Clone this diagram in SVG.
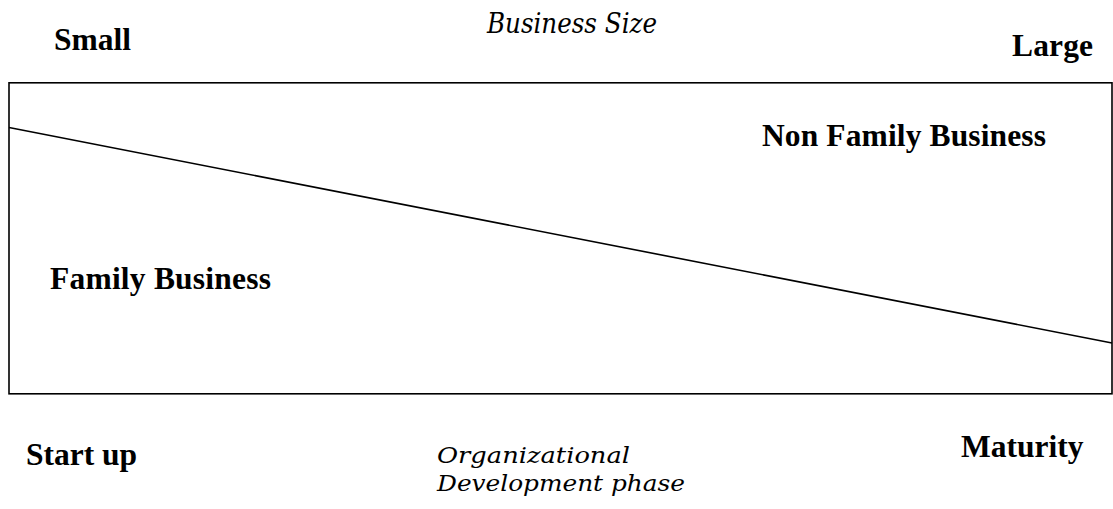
<svg xmlns="http://www.w3.org/2000/svg" width="1113" height="509" viewBox="0 0 1113 509">
<style>
.b{font-family:"Liberation Serif","Times New Roman",serif;font-weight:bold;font-size:31.5px;fill:#000}
.i{font-family:"DejaVu Serif","Liberation Serif",serif;font-style:italic;fill:#000}
.ln{stroke:#000;stroke-width:1.6;fill:none}
</style>
<rect width="1113" height="509" fill="#fff"/>
<g id="frame"><rect class="ln" x="9" y="82.8" width="1103" height="311"/></g>
<g id="connectors"><line class="ln" x1="9" y1="127.5" x2="1112" y2="343"/></g>
<g id="small"><text class="b" x="54" y="50" textLength="77">Small</text></g>
<g id="business-size"><text class="i" x="487" y="33" font-size="27" textLength="170" lengthAdjust="spacingAndGlyphs">Business Size</text></g>
<g id="large"><text class="b" x="1012" y="56" textLength="81">Large</text></g>
<g id="non-family"><text class="b" x="762" y="146" textLength="284">Non Family Business</text></g>
<g id="family"><text class="b" x="50" y="289" textLength="221">Family Business</text></g>
<g id="startup"><text class="b" x="26" y="465">Start up</text></g>
<g id="maturity"><text class="b" x="961" y="457">Maturity</text></g>
<g id="org-phase"><text class="i" x="437" y="463" font-size="23" textLength="193" lengthAdjust="spacingAndGlyphs">Organizational</text><text class="i" x="437" y="491" font-size="23" textLength="248" lengthAdjust="spacingAndGlyphs">Development phase</text></g>
</svg>
